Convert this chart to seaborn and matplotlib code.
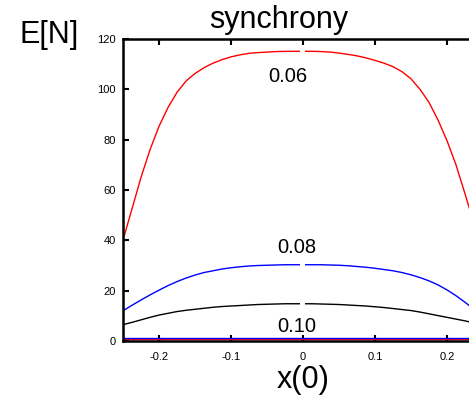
import numpy as np
import pandas as pd
import matplotlib
matplotlib.use("Agg")
import matplotlib.pyplot as plt
import seaborn as sns

# initial condition x(0)
x0 = [-0.25, -0.2375, -0.225, -0.2125, -0.2, -0.1875, -0.175, -0.1625, -0.15,
      -0.1375, -0.125, -0.1125, -0.1, -0.0875, -0.075, -0.0625, -0.05, -0.0375,
      -0.025, -0.0125, 0.0, 0.0125, 0.025, 0.0375, 0.05, 0.0625, 0.075, 0.0875,
      0.1, 0.1125, 0.125, 0.1375, 0.15, 0.1625, 0.175, 0.1875, 0.2, 0.2125,
      0.225, 0.2375, 0.25]

# expected number E[N] for each coupling level
en_006 = [40.1, 52.5, 65.0, 76.0, 85.3, 92.8, 98.8, 103.3, 106.3, 108.6, 110.4,
          111.8, 112.9, 113.7, 114.3, 114.6, 114.8, 115.0, 115.1, 115.1, 115.1,
          115.1, 115.0, 114.8, 114.4, 113.9, 113.3, 112.5, 111.5, 110.4, 109.0,
          107.0, 104.2, 100.0, 94.8, 87.8, 79.6, 70.0, 58.5, 46.5, 34.5]
en_008 = [12.0, 14.2, 16.3, 18.3, 20.2, 22.0, 23.6, 25.0, 26.2, 27.2, 27.9,
          28.6, 29.1, 29.5, 29.8, 30.0, 30.1, 30.2, 30.3, 30.3, 30.3, 30.3,
          30.3, 30.2, 30.1, 29.9, 29.6, 29.3, 28.9, 28.4, 27.9, 27.2, 26.3,
          25.2, 23.9, 22.3, 20.3, 18.0, 15.4, 12.6, 9.7]
en_mid = [6.5, 7.4, 8.4, 9.4, 10.3, 11.0, 11.7, 12.2, 12.6, 13.0, 13.4, 13.7,
          13.9, 14.1, 14.3, 14.5, 14.6, 14.7, 14.8, 14.8, 14.8, 14.8, 14.7,
          14.6, 14.5, 14.3, 14.1, 13.9, 13.6, 13.3, 12.9, 12.5, 12.1, 11.5,
          10.8, 10.1, 9.4, 8.7, 8.0, 7.2, 6.4]
en_010_a = [0.8] * len(x0)
en_010_b = [1.1] * len(x0)

curve_names = ["0.06", "0.08", "mid", "0.10a", "0.10b"]
curve_colors = ["#ff0000", "#0000ff", "#000000", "#ff0000", "#0000ff"]
curve_values = [en_006, en_008, en_mid, en_010_a, en_010_b]

# contour-style labels: text, x, y
label_text = ["0.06", "0.08", "0.10"]
label_x = [-0.0216, -0.009, -0.009]
label_y = [105.2, 37.3, 5.6]

xticks = [-0.2, -0.1, 0, 0.1, 0.2]
xtick_labels = ["-0.2", "-0.1", "0", "0.1", "0.2"]
yticks = [0, 20, 40, 60, 80, 100, 120]

df = pd.concat(
    [pd.DataFrame({"x0": x0, "EN": v, "curve": n})
     for n, v in zip(curve_names, curve_values)],
    ignore_index=True,
)

sns.set_theme(style="ticks")
plt.rcParams["font.family"] = ["Liberation Sans", "DejaVu Sans"]
plt.rcParams["text.color"] = "black"

fig = plt.figure(figsize=(4.69, 3.95), dpi=100)
# axes run past the right edge of the figure
ax = fig.add_axes([123 / 469, 1 - 341 / 395, 360 / 469, 302 / 395])

sns.lineplot(data=df, x="x0", y="EN", hue="curve", hue_order=curve_names,
             palette=dict(zip(curve_names, curve_colors)), legend=False,
             linewidth=1.0, ax=ax, sort=False)

# inline gaps where the contour values are written
for v in [en_006, en_008, en_mid]:
    yc = v[x0.index(0.0)]
    ax.plot([-0.0045, 0.0025], [yc, yc], color="white", linewidth=3,
            solid_capstyle="butt", zorder=3)

for t, lx, ly in zip(label_text, label_x, label_y):
    ax.text(lx, ly, t, ha="center", va="center", fontsize=14.5, color="black")

ax.set_xlim(-0.25, 0.25)
ax.set_ylim(0, 120)
ax.set_xticks(xticks)
ax.set_xticklabels(xtick_labels)
ax.set_yticks(yticks)
ax.set_xlabel("")
ax.set_ylabel("")
ax.tick_params(axis="both", direction="in", length=4, width=1.5,
               labelsize=8, colors="black")
ax.tick_params(axis="x", top=True, pad=8)
ax.tick_params(axis="y", pad=5)
for side in ["left", "bottom", "top", "right"]:
    ax.spines[side].set_visible(True)
    ax.spines[side].set_linewidth(1.8)
    ax.spines[side].set_color("black")

fig.text(279 / 469, 1 - 28 / 395, "synchrony", ha="center", va="baseline",
         fontsize=22, color="black")
fig.text(19 / 469, 1 - 43 / 395, "E[N]", ha="left", va="baseline",
         fontsize=22, color="black")
fig.text(303.5 / 469, 1 - 388 / 395, "x(0)", ha="center", va="baseline",
         fontsize=22, color="black")

fig.savefig("out.png", dpi=100)
